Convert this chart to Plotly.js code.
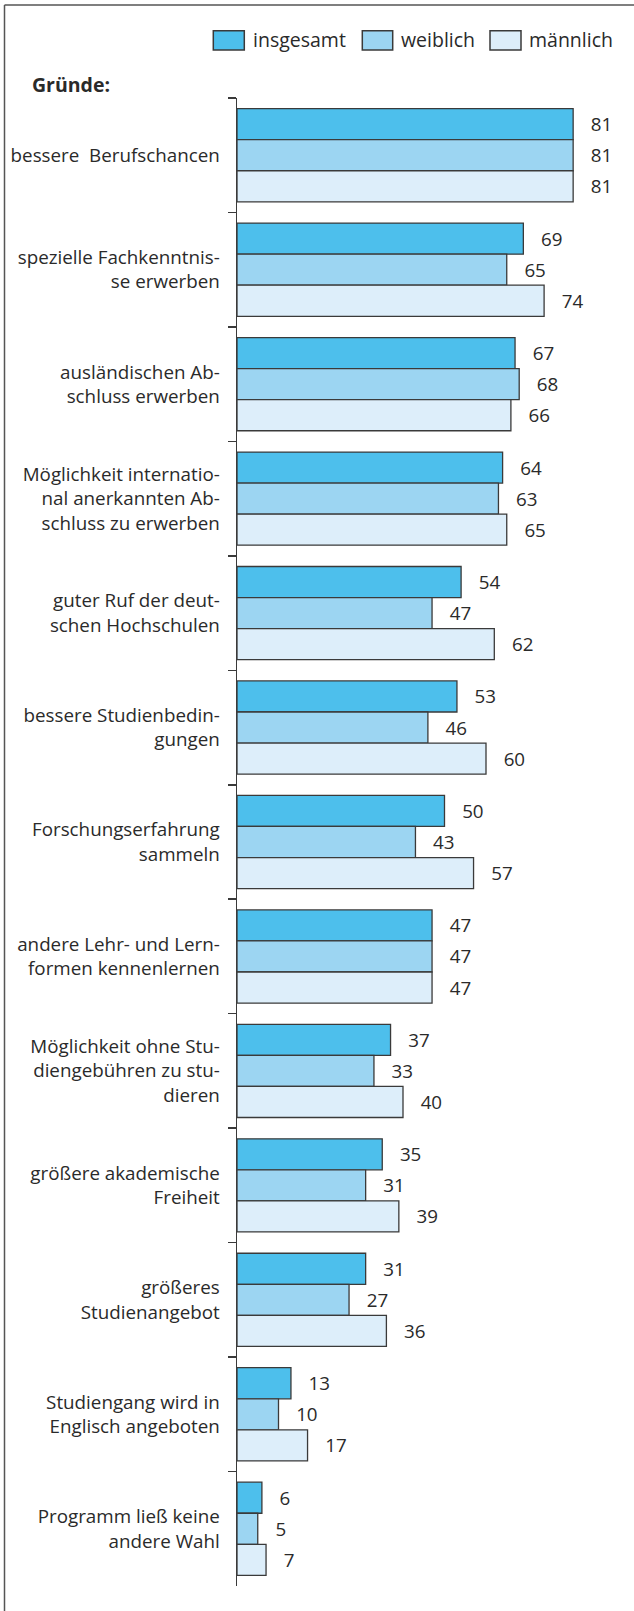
<!DOCTYPE html>
<html>
<head>
<meta charset="utf-8">
<script src="https://cdn.plot.ly/plotly-3.0.1.min.js"></script>
<style>
  html, body { margin: 0; padding: 0; background: #ffffff; }
  #chart { width: 634px; height: 1611px; }
</style>
</head>
<body>
<div id="chart"></div>
<script>
// ---- data ----
const categories = [
  "bessere\u00a0 Berufschancen",
  "spezielle Fachkenntnis-<br>se erwerben",
  "ausländischen Ab-<br>schluss erwerben",
  "Möglichkeit internatio-<br>nal anerkannten Ab-<br>schluss zu erwerben",
  "guter Ruf der deut-<br>schen Hochschulen",
  "bessere Studienbedin-<br>gungen",
  "Forschungserfahrung<br>sammeln",
  "andere Lehr- und Lern-<br>formen kennenlernen",
  "Möglichkeit ohne Stu-<br>diengebühren zu stu-<br>dieren",
  "größere akademische<br>Freiheit",
  "größeres<br>Studienangebot",
  "Studiengang wird in<br>Englisch angeboten",
  "Programm ließ keine<br>andere Wahl"
];
const insgesamt = [81, 69, 67, 64, 54, 53, 50, 47, 37, 35, 31, 13, 6];
const weiblich  = [81, 65, 68, 63, 47, 46, 43, 47, 33, 31, 27, 10, 5];
const maennlich = [81, 74, 66, 65, 62, 60, 57, 47, 40, 39, 36, 17, 7];
const seriesNames = ["insgesamt", "weiblich", "männlich"];
const sectionLabel = "Gründe:";

// ---- styling ----
const seriesColors = ["#4dbfec", "#9cd5f2", "#ddeefa"];
const outline = "#3a3a3a";
const textColor = "#2a2a2a";
const FONT = "'Open Sans', 'Noto Sans', sans-serif";
const FS = 18.8;

const W = 634, H = 1611, L = 237, R = 0, T = 98, B = 25;
const pw = W - L - R, ph = H - T - B;
const pxX = x => (x - L) / pw;
const pxY = y => (H - B - y) / ph;

const seriesValues = [insgesamt, weiblich, maennlich];
const traces = seriesValues.map((vals, i) => ({
  type: "bar",
  orientation: "h",
  name: seriesNames[i],
  y: categories,
  x: vals,
  marker: { color: seriesColors[i], line: { color: outline, width: 1.3 } },
  text: vals.map(v => "\u00a0\u00a0\u00a0" + v),
  textposition: "outside",
  textfont: { family: FONT, size: FS, color: textColor },
  constraintext: "none",
  cliponaxis: false,
  hoverinfo: "x+name",
  showlegend: false
}));

const shapes = [];
const annotations = [];

// legend drawn manually (box + text)
const legendBoxes = [[213.3, 244.3, 252.7], [362.3, 392.7, 401], [490, 521, 529.3]];
legendBoxes.forEach((b, i) => {
  shapes.push({
    type: "rect", xref: "paper", yref: "paper",
    x0: pxX(b[0]), x1: pxX(b[1]), y0: pxY(50), y1: pxY(30.7),
    fillcolor: seriesColors[i], line: { color: outline, width: 1.5 }
  });
  annotations.push({
    xref: "paper", yref: "paper", x: pxX(b[2] - 2), y: pxY(40), xanchor: "left", yanchor: "middle",
    text: seriesNames[i], showarrow: false,
    font: { family: FONT, size: 19.5, color: textColor }
  });
});
annotations.push({
  xref: "paper", yref: "paper", x: pxX(30), y: pxY(85), xanchor: "left", yanchor: "middle",
  text: "<b>" + sectionLabel + "</b>", showarrow: false,
  font: { family: FONT, size: 19.5, color: textColor }
});
// frame: left and top lines
shapes.push({ type: "line", xref: "paper", yref: "paper", x0: pxX(4.5), x1: pxX(634), y0: pxY(5), y1: pxY(5), line: { color: "#555", width: 1.5 } });
shapes.push({ type: "line", xref: "paper", yref: "paper", x0: pxX(4.5), x1: pxX(4.5), y0: pxY(5), y1: pxY(1611), line: { color: "#555", width: 1.5 } });

const layout = {
  width: W, height: H,
  margin: { l: L, r: R, t: T, b: B, pad: 0 },
  paper_bgcolor: "#ffffff", plot_bgcolor: "#ffffff",
  barmode: "group", bargap: 0.186, bargroupgap: 0,
  showlegend: false,
  font: { family: FONT, size: FS, color: textColor },
  xaxis: {
    range: [0, pw / 4.15], visible: false, fixedrange: true
  },
  yaxis: {
    type: "category", autorange: "reversed",
    showline: true, linecolor: outline, linewidth: 1.5,
    ticks: "outside", ticklen: 8, tickwidth: 1.5, tickcolor: outline,
    tickson: "boundaries", showgrid: false, zeroline: false,
    ticklabelstandoff: 12,
    tickfont: { family: FONT, size: FS, color: textColor },
    fixedrange: true
  },
  shapes: shapes,
  annotations: annotations
};

Plotly.newPlot("chart", traces, layout, { displayModeBar: false, staticPlot: true });
</script>
</body>
</html>
